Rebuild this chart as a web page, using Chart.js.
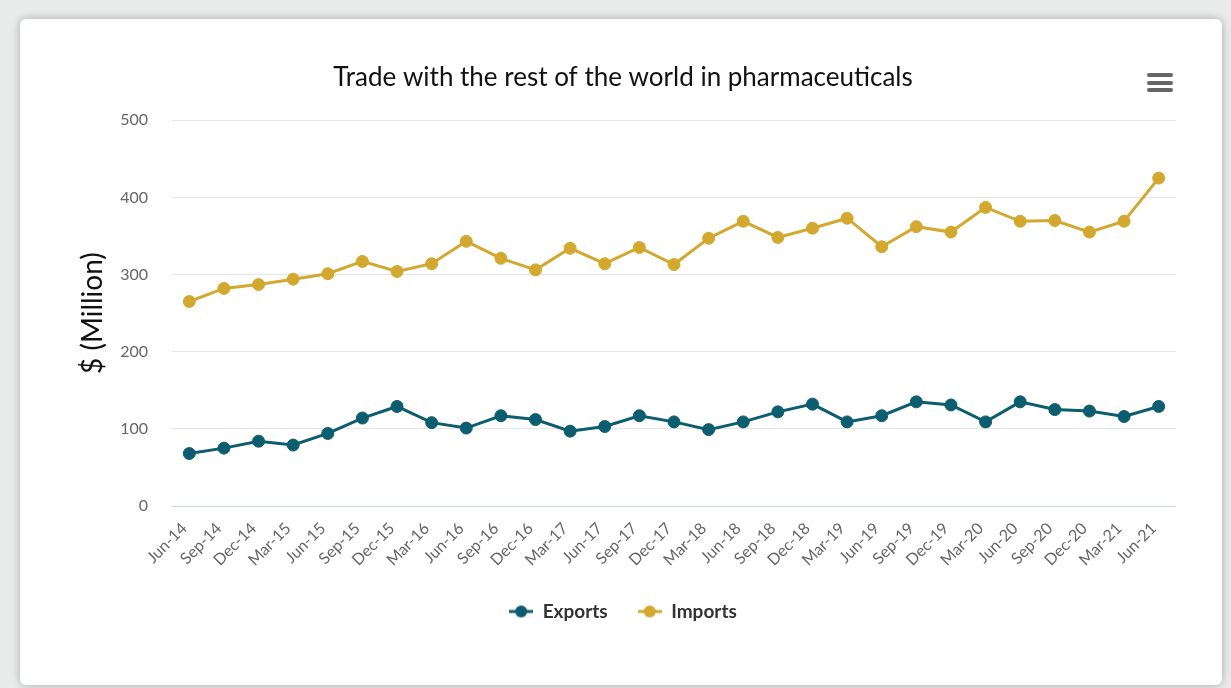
<!DOCTYPE html>
<html>
<head>
<meta charset="utf-8">
<script src="https://cdn.jsdelivr.net/npm/chart.js@4/dist/chart.umd.min.js"></script>
<style>
  html, body { margin: 0; padding: 0; }
  body { width: 1231px; height: 688px; background: #e9eaea; position: relative; overflow: hidden; font-family: Lato, sans-serif; }
  #card { position: absolute; left: 20px; top: 19px; width: 1202px; height: 666px; background: #fff; border-radius: 6px; box-shadow: 0 0 8px rgba(0,0,0,0.28); }
  #grafico { position: absolute; left: 0; top: 0; width: 1202px; height: 666px; }
  #menu { position: absolute; left: 1127px; top: 54px; width: 26px; }
  #menu div { height: 4px; background: #666; border-radius: 2px; margin-bottom: 3.5px; }
</style>
</head>
<body>
<div id="card">
  <div id="grafico"><canvas id="lienzo"></canvas></div>
  <div id="menu"><div></div><div></div><div></div></div>
</div>
<script>
// Datos del grafico
const periodos = ['Jun-14', 'Sep-14', 'Dec-14', 'Mar-15', 'Jun-15', 'Sep-15', 'Dec-15', 'Mar-16', 'Jun-16', 'Sep-16',
  'Dec-16', 'Mar-17', 'Jun-17', 'Sep-17', 'Dec-17', 'Mar-18', 'Jun-18', 'Sep-18', 'Dec-18', 'Mar-19',
  'Jun-19', 'Sep-19', 'Dec-19', 'Mar-20', 'Jun-20', 'Sep-20', 'Dec-20', 'Mar-21', 'Jun-21']
const exportaciones = [68, 75, 84, 79, 94, 114, 129, 108, 101, 117,
  112, 97, 103, 117, 109, 99, 109, 122, 132, 109,
  117, 135, 131, 109, 135, 125, 123, 116, 129]
const importaciones = [265, 282, 287, 294, 301, 317, 304, 314, 343, 321,
  306, 334, 314, 335, 313, 347, 369, 348, 360, 373,
  336, 362, 355, 387, 369, 370, 355, 369, 425]
const ejeY = { min: 0, max: 500, paso: 100 }

const colorExport = '#0b5d6f'
const colorImport = '#d2a82f'

// Icono de leyenda: linea con punto
function iconoLeyenda(color) {
  const c = document.createElement('canvas')
  c.width = 24
  c.height = 14
  const ctx = c.getContext('2d')
  ctx.strokeStyle = color
  ctx.lineWidth = 3
  ctx.beginPath()
  ctx.moveTo(0, 7)
  ctx.lineTo(24, 7)
  ctx.stroke()
  ctx.fillStyle = color
  ctx.beginPath()
  ctx.arc(12, 7, 6, 0, Math.PI * 2)
  ctx.fill()
  return c
}

const iconos = [iconoLeyenda(colorExport), iconoLeyenda(colorImport)]

function serie(nombre, datos, color) {
  return {
    label: nombre,
    data: datos,
    borderColor: color,
    backgroundColor: color,
    pointBackgroundColor: color,
    pointBorderColor: color,
    borderWidth: 3,
    pointRadius: 6,
    pointBorderWidth: 1,
    tension: 0
  }
}

new Chart(document.getElementById('lienzo'), {
  type: 'line',
  data: {
    labels: periodos,
    datasets: [
      serie('Exports', exportaciones, colorExport),
      serie('Imports', importaciones, colorImport)
    ]
  },
  options: {
    responsive: true,
    maintainAspectRatio: false,
    animation: false,
    layout: { padding: { left: 50, right: 46, top: 0, bottom: 54 } },
    plugins: {
      title: {
        display: true,
        text: 'Trade with the rest of the world in pharmaceuticals',
        color: '#111',
        font: { family: 'Lato', size: 26, weight: 'normal' },
        padding: { top: 43, bottom: 27 }
      },
      legend: {
        position: 'bottom',
        labels: {
          usePointStyle: true,
          pointStyleWidth: 24,
          padding: 30,
          color: '#333',
          font: { family: 'Lato', size: 19, weight: 'bold' },
          generateLabels: (chart) => {
            const items = Chart.defaults.plugins.legend.labels.generateLabels(chart)
            items.forEach(it => { it.pointStyle = iconos[it.datasetIndex] })
            return items
          }
        }
      },
      tooltip: { enabled: false }
    },
    scales: {
      x: {
        offset: true,
        grid: { display: false, drawTicks: false },
        border: { display: false },
        ticks: {
          color: '#666',
          font: { family: 'Lato', size: 16 },
          minRotation: 45,
          maxRotation: 45,
          autoSkip: false,
          padding: 13,
          labelOffset: -5
        },
        afterFit: (escala) => { escala.height = 66 }
      },
      y: {
        min: ejeY.min,
        max: ejeY.max,
        border: { display: false },
        grid: {
          drawTicks: false,
          color: (ctx) => ctx.tick && ctx.tick.value === 0 ? '#ccd6eb' : '#e6e6e6'
        },
        ticks: {
          stepSize: ejeY.paso,
          color: '#666',
          font: { family: 'Lato', size: 16 },
          padding: 24
        },
        title: {
          display: true,
          text: '$ (Million)',
          color: '#111',
          font: { family: 'Lato', size: 28, weight: 'normal' },
          padding: { top: 6, bottom: 0 }
        },
        afterFit: (escala) => { escala.width = 102 }
      }
    }
  }
})
</script>
</body>
</html>
